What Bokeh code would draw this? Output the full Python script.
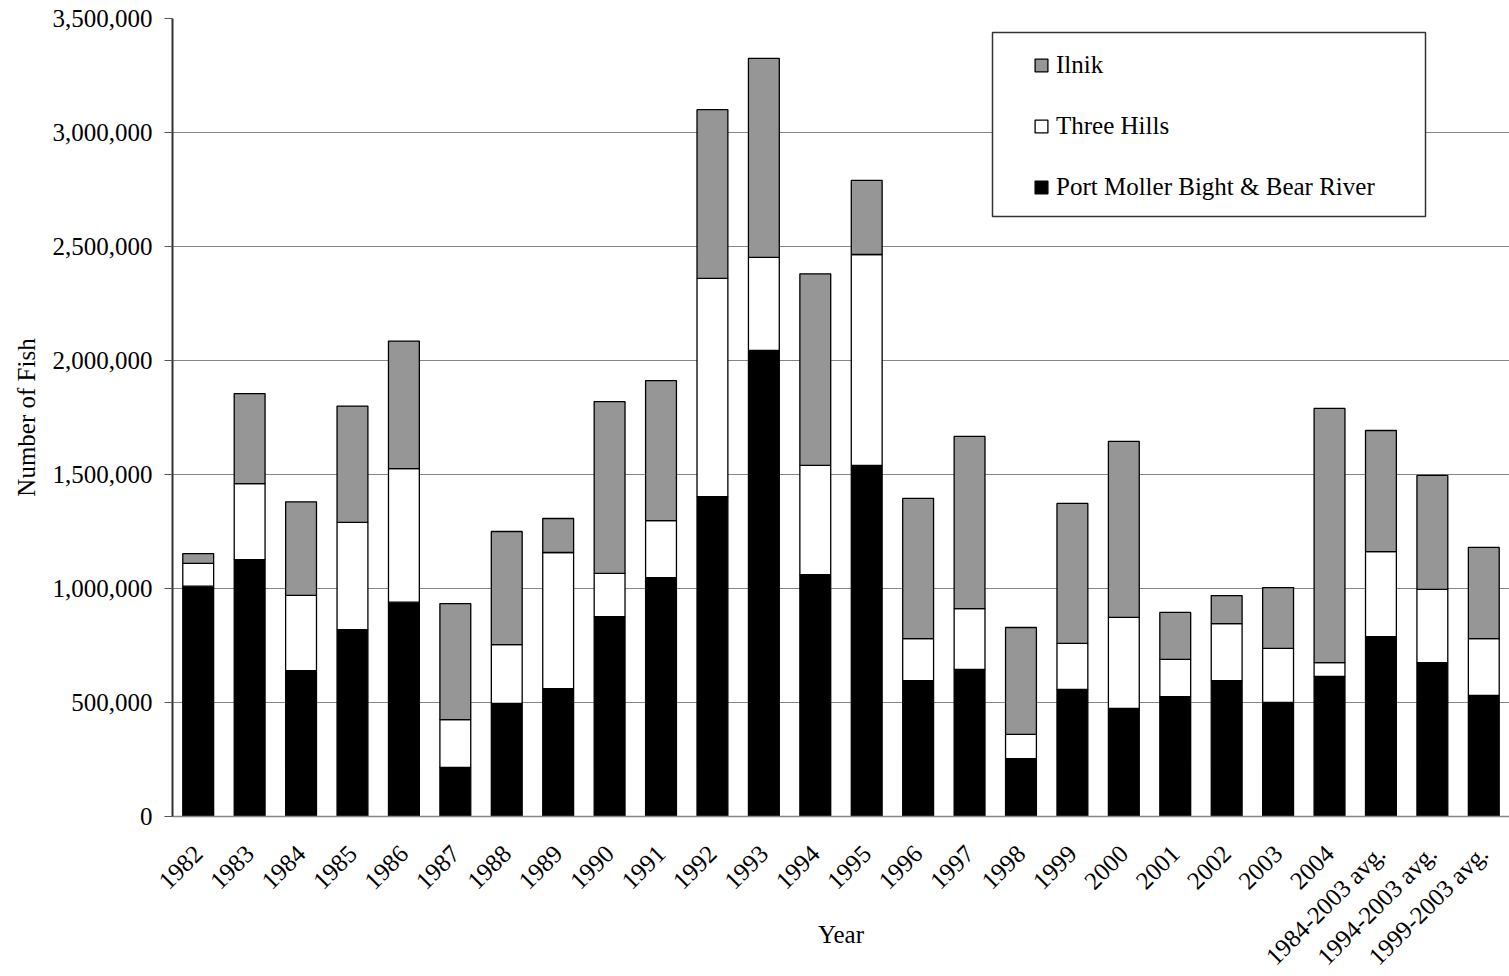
import math
from bokeh.plotting import figure
from bokeh.models import (ColumnDataSource, Range1d, FactorRange, Legend, LegendItem,
                          NumeralTickFormatter, FixedTicker, BoxAnnotation)
from bokeh.embed import file_html
from bokeh.resources import INLINE

years = ["1982", "1983", "1984", "1985", "1986", "1987", "1988", "1989", "1990",
         "1991", "1992", "1993", "1994", "1995", "1996", "1997", "1998", "1999",
         "2000", "2001", "2002", "2003", "2004", "1984-2003 avg.", "1994-2003 avg.",
         "1999-2003 avg."]
port_moller = [1010000, 1127000, 640000, 820000, 940000, 215000, 496000, 561000, 877000,
               1048000, 1403000, 2044000, 1061000, 1540000, 596000, 645000, 254000, 557000,
               474000, 526000, 596000, 500000, 614000, 789000, 675000, 531000]
three_hills = [100000, 333000, 330000, 470000, 586000, 210000, 258000, 597000, 189000,
               250000, 957000, 408000, 479000, 925000, 184000, 267000, 106000, 202000,
               399000, 163000, 250000, 237000, 61000, 373000, 321000, 249000]
ilnik = [43000, 395000, 410000, 510000, 559000, 509000, 496000, 149000, 754000,
         614000, 740000, 873000, 840000, 325000, 615000, 755000, 469000, 614000,
         772000, 206000, 123000, 267000, 1115000, 531000, 500000, 400000]
y_ticks = [0, 500000, 1000000, 1500000, 2000000, 2500000, 3000000, 3500000]

series = ["port_moller", "three_hills", "ilnik"]
labels = ["Port Moller Bight & Bear River", "Three Hills", "Ilnik"]
colors = ["#000000", "#ffffff", "#969696"]

source = ColumnDataSource(dict(years=years, port_moller=port_moller,
                               three_hills=three_hills, ilnik=ilnik))

FONT = "Liberation Serif"
FS = "25px"

p = figure(width=1509, height=976, output_backend="svg", toolbar_location=None,
           x_range=FactorRange(factors=years), y_range=Range1d(0, 3500000),
           min_border_left=172, min_border_right=0, min_border_top=18,
           min_border_bottom=160)
p.outline_line_color = None
p.background_fill_color = "white"
p.border_fill_color = "white"

renderers = p.vbar_stack(series, x="years", width=0.6, source=source,
                         fill_color=colors, line_color="black", line_width=1.3)

p.xgrid.grid_line_color = None
p.ygrid.grid_line_color = "#868686"
p.ygrid.grid_line_width = 1
p.yaxis.ticker = FixedTicker(ticks=y_ticks)
p.yaxis.formatter = NumeralTickFormatter(format="0,0")
p.yaxis.minor_tick_line_color = None
p.yaxis.major_tick_in = 0
p.yaxis.major_tick_out = 8
p.yaxis.major_tick_line_color = "#555555"
p.yaxis.axis_line_color = "#333333"
p.yaxis.axis_line_width = 2
p.yaxis.major_label_standoff = 12
p.yaxis.axis_label = "Number of Fish"
p.yaxis.axis_label_standoff = 10

p.xaxis.major_tick_in = 0
p.xaxis.major_tick_out = 0
p.xaxis.axis_line_color = "#868686"
p.xaxis.axis_line_width = 1.5
p.xaxis.major_label_orientation = math.pi / 4
p.xaxis.major_label_standoff = 33
p.xaxis.axis_label = "Year"
p.xaxis.axis_label_standoff = -62

for ax in (p.xaxis[0], p.yaxis[0]):
    ax.major_label_text_font = FONT
    ax.major_label_text_font_size = FS
    ax.major_label_text_color = "black"
    ax.axis_label_text_font = FONT
    ax.axis_label_text_font_size = FS
    ax.axis_label_text_font_style = "normal"
    ax.axis_label_text_color = "black"

# legend frame
p.add_layout(BoxAnnotation(left=992, right=1425, top=32, bottom=216,
                           left_units="canvas", right_units="canvas",
                           top_units="canvas", bottom_units="canvas",
                           fill_color="white", fill_alpha=1.0,
                           line_color="#333333", line_width=1.5, line_alpha=1.0))

items = [LegendItem(label=labels[i], renderers=[renderers[i]]) for i in (2, 1, 0)]
legend = Legend(items=items, location=(861, 615), orientation="vertical",
                padding=10, spacing=33, label_height=20,
                glyph_width=16, glyph_height=16, label_standoff=7,
                label_text_font=FONT, label_text_font_size=FS,
                label_text_color="black",
                border_line_color=None,
                background_fill_alpha=0.0)
p.add_layout(legend, "center")

open("out.html", "w").write(file_html(p, INLINE))
